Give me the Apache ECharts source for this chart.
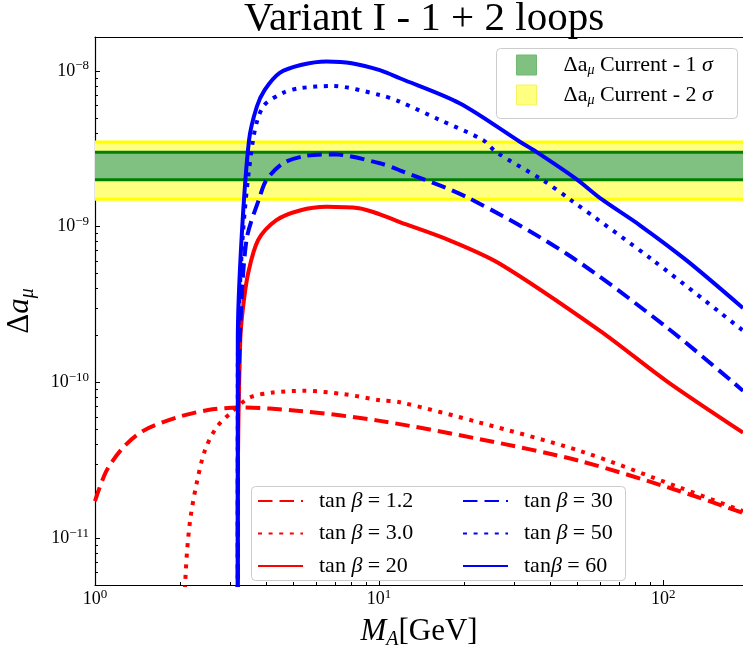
<!DOCTYPE html>
<html><head><meta charset="utf-8">
<script src="https://cdn.jsdelivr.net/npm/echarts@6/dist/echarts.min.js"></script>
<style>html,body{margin:0;padding:0;background:#fff}#c{width:743px;height:647px}</style>
</head><body><div id="c"></div>
<script>
const FONT = '"Liberation Serif", "DejaVu Serif", serif';

// ticks
const xMajorTicks = [1, 10, 100];
const xMinorTicks = [2, 3, 4, 5, 6, 7, 8, 9, 20, 30, 40, 50, 60, 70, 80, 90];
const yMajorTicks = [1e-11, 1e-10, 1e-9, 1e-8];
const yMinorTicks = [6e-12, 7e-12, 8e-12, 9e-12,
  2e-11, 3e-11, 4e-11, 5e-11, 6e-11, 7e-11, 8e-11, 9e-11,
  2e-10, 3e-10, 4e-10, 5e-10, 6e-10, 7e-10, 8e-10, 9e-10,
  2e-9, 3e-9, 4e-9, 5e-9, 6e-9, 7e-9, 8e-9, 9e-9];

// bands
const band1Sigma = [2.0e-9, 3.0e-9];
const band2Sigma = [1.5e-9, 3.5e-9];
const bandX = [1, 191];

// tan beta = 1.2 (red dashed)
const mA_tb1p2 = [1.0, 1.097, 1.255, 1.476, 1.934, 2.5, 3.233, 5.24, 10.06, 22.6, 50.9, 114.5, 191];
const da_tb1p2 = [1.73e-11, 2.7e-11, 3.81e-11, 4.88e-11, 5.94e-11, 6.64e-11, 6.89e-11, 6.56e-11, 5.66e-11, 4.32e-11, 3.13e-11, 2.0e-11, 1.45e-11];
// tan beta = 3.0 (red dotted)
const mA_tb3 = [2.066, 2.074, 2.109, 2.168, 2.275, 2.434, 2.676, 3.06, 3.505, 4.235, 5.40, 7.5, 10.06, 11.83, 22.6, 50.9, 114.5, 191];
const da_tb3 = [4e-12, 4.9e-12, 8.24e-12, 1.35e-11, 2.21e-11, 3.63e-11, 5.13e-11, 6.56e-11, 8.0e-11, 8.61e-11, 8.83e-11, 8.41e-11, 7.68e-11, 7.46e-11, 5.52e-11, 3.63e-11, 2.11e-11, 1.49e-11];
// tan beta = 20 (red solid)
const mA_tb20 = [3.181, 3.182, 3.245, 3.32, 3.457, 3.749, 4.35, 5.26, 6.53, 8.5, 10.06, 11.83, 17.7, 26.6, 59.8, 102.8, 191];
const da_tb20 = [4e-12, 2e-11, 1.85e-10, 3.03e-10, 4.98e-10, 8.17e-10, 1.10e-9, 1.27e-9, 1.34e-9, 1.31e-9, 1.20e-9, 1.07e-9, 8.17e-10, 5.78e-10, 2.15e-10, 1.02e-10, 4.76e-11];
// tan beta = 30 (blue dashed)
const mA_tb30 = [3.181, 3.182, 3.233, 3.413, 3.80, 4.013, 4.59, 5.54, 6.89, 10.06, 11.83, 20.3, 45.7, 102.8, 191];
const da_tb30 = [4e-12, 4e-11, 1.85e-10, 8.17e-10, 1.55e-9, 1.99e-9, 2.55e-9, 2.85e-9, 2.91e-9, 2.55e-9, 2.30e-9, 1.55e-9, 6.7e-10, 2.26e-10, 8.83e-11];
// tan beta = 50 (blue dotted)
const mA_tb50 = [3.181, 3.182, 3.304, 3.60, 3.905, 4.59, 5.26, 6.82, 10.06, 11.83, 16.35, 23.2, 25.9, 37.8, 46.9, 92.2, 191];
const da_tb50 = [4e-12, 1.2e-10, 8.17e-10, 3.6e-9, 5.89e-9, 7.22e-9, 7.74e-9, 8.0e-9, 7.0e-9, 6.34e-9, 4.84e-9, 3.6e-9, 3.0e-9, 1.98e-9, 1.5e-9, 6.07e-10, 2.15e-10];
// tan beta = 60 (blue solid)
const mA_tb60 = [3.181, 3.182, 3.278, 3.486, 3.709, 3.958, 4.47, 5.30, 6.53, 8.01, 10.06, 11.83, 19.2, 31.3, 35.8, 49.5, 60.7, 82.8, 120.9, 191];
const da_tb60 = [4e-12, 1.85e-10, 8.17e-10, 3.6e-9, 5.86e-9, 7.55e-9, 9.71e-9, 1.09e-8, 1.148e-8, 1.12e-8, 1.01e-8, 8.97e-9, 6.2e-9, 3.51e-9, 3.02e-9, 2.02e-9, 1.5e-9, 1.02e-9, 6.07e-10, 3.0e-10];

const seriesNames = ['tan β = 1.2', 'tan β = 3.0', 'tan β = 20', 'tan β = 30', 'tan β = 50', 'tanβ = 60'];
const bandNames = ['Δa_μ Current - 1 σ', 'Δa_μ Current - 2 σ'];

const zip = (a, b) => a.map((v, i) => [v, b[i]]);

const tickRich = {
  b: { fontFamily: FONT, fontSize: 18, lineHeight: 23, color: '#000' },
  s: { fontFamily: FONT, fontSize: 13, lineHeight: 13, verticalAlign: 'top', color: '#000' }
};
function powLabel(val) {
  const e = Math.round(Math.log10(val));
  if (Math.abs(Math.log10(val) - e) > 1e-6) return '';
  return '{b|10}{s|' + (e < 0 ? '−' : '') + Math.abs(e) + '}';
}

const DASH = [14.5, 7];
const DOT = [4, 6.6];
const LW = 4;
const LFS = 22;

function lineSeries(name, m, d, color, type) {
  return {
    type: 'line', name: name, data: zip(m, d), xAxisIndex: 0, yAxisIndex: 0,
    showSymbol: false, symbol: 'none', smooth: 0.3, z: 3,
    lineStyle: { color: color, width: LW, type: type, cap: 'butt' },
    itemStyle: { color: color }, clip: true
  };
}
function edgeSeries(name, y, color) {
  return {
    type: 'line', name: name, data: bandX.map(x => [x, y]), xAxisIndex: 0, yAxisIndex: 0,
    showSymbol: false, symbol: 'none', z: 2, silent: true,
    lineStyle: { color: color, width: 3, type: 'solid' }, itemStyle: { color: color }
  };
}

const legendRich = {
  r: { fontFamily: FONT, fontSize: LFS, lineHeight: 24, color: '#000' },
  i: { fontFamily: FONT, fontStyle: 'italic', fontSize: LFS, lineHeight: 24, color: '#000' },
  sub: { fontFamily: FONT, fontStyle: 'italic', fontSize: 14, lineHeight: 14, verticalAlign: 'bottom', color: '#000' }
};
const tanFormatter = function (name) {
  const k = name.indexOf('β');
  return '{r|' + name.slice(0, k) + '}{i|β}{r|' + name.slice(k + 1) + '}';
};
function lineLegend(names, left) {
  return {
    data: names, orient: 'vertical', left: left, top: 490, itemWidth: 45, itemHeight: 14, itemGap: 10.5,
    padding: 0, selectedMode: false, itemStyle: { opacity: 0, borderWidth: 0 },
    formatter: tanFormatter, z: 6,
    textStyle: { padding: [0, 0, 0, 11], rich: legendRich }
  };
}

const chart = echarts.init(document.getElementById('c'), null, { renderer: 'canvas' });
const option = {
  animation: false,
  backgroundColor: '#fff',
  title: {
    text: 'Variant I - 1 + 2 loops', left: 419, textAlign: 'center', top: -6,
    textStyle: { fontFamily: FONT, fontSize: 41, fontWeight: 'normal', color: '#000' }
  },
  grid: { left: 95, top: 37, right: 0, bottom: 62, containLabel: false, outerBoundsMode: 'none' },
  xAxis: [
    {
      type: 'log', logBase: 10, min: 1, max: 191, position: 'bottom',
      axisLine: { show: true, onZero: false, lineStyle: { color: '#000', width: 1.2 } },
      axisTick: { show: true, inside: true, length: 5, customValues: xMajorTicks, lineStyle: { color: '#000', width: 1 } },
      axisLabel: { show: true, customValues: xMajorTicks, formatter: powLabel, rich: tickRich, margin: 3 },
      splitLine: { show: false }, minorTick: { show: false },
      name: '{i|M}{sub|A}{r|[GeV]}', nameLocation: 'middle', nameGap: 29,
      nameTextStyle: {
        rich: {
          i: { fontFamily: FONT, fontStyle: 'italic', fontSize: 31, lineHeight: 36, color: '#000' },
          sub: { fontFamily: FONT, fontStyle: 'italic', fontSize: 20, lineHeight: 20, verticalAlign: 'bottom', color: '#000' },
          r: { fontFamily: FONT, fontSize: 31, lineHeight: 36, color: '#000' }
        }
      }
    },
    {
      type: 'log', logBase: 10, min: 1, max: 191, position: 'bottom',
      axisLine: { show: false },
      axisTick: { show: true, inside: true, length: 3, customValues: xMinorTicks, lineStyle: { color: '#000', width: 1 } },
      axisLabel: { show: false }, splitLine: { show: false }
    },
    {
      type: 'log', logBase: 10, min: 1, max: 191, position: 'top',
      axisLine: { show: true, onZero: false, lineStyle: { color: '#000', width: 1.2 } },
      axisTick: { show: false }, axisLabel: { show: false }, splitLine: { show: false }
    }
  ],
  yAxis: [
    {
      type: 'log', logBase: 10, min: 5e-12, max: 1.65e-8, position: 'left',
      axisLine: { show: true, onZero: false, lineStyle: { color: '#000', width: 1.2 } },
      axisTick: { show: true, inside: true, length: 5, customValues: yMajorTicks, lineStyle: { color: '#000', width: 1 } },
      axisLabel: { show: true, customValues: yMajorTicks, formatter: powLabel, rich: tickRich, margin: 6 },
      splitLine: { show: false },
      name: '{r|Δ}{i|a}{sub|μ}', nameLocation: 'middle', nameGap: 57, nameRotate: 90,
      nameTextStyle: {
        rich: {
          r: { fontFamily: FONT, fontSize: 31, lineHeight: 36, color: '#000' },
          i: { fontFamily: FONT, fontStyle: 'italic', fontSize: 31, lineHeight: 36, color: '#000' },
          sub: { fontFamily: FONT, fontStyle: 'italic', fontSize: 20, lineHeight: 20, verticalAlign: 'bottom', color: '#000' }
        }
      }
    },
    {
      type: 'log', logBase: 10, min: 5e-12, max: 1.65e-8, position: 'left',
      axisLine: { show: false },
      axisTick: { show: true, inside: true, length: 3, customValues: yMinorTicks, lineStyle: { color: '#000', width: 1 } },
      axisLabel: { show: false }, splitLine: { show: false }
    }
  ],
  graphic: [
    { type: 'rect', z: 5, silent: true, shape: { x: 496.5, y: 48.5, width: 241, height: 70, r: 4 },
      style: { fill: 'rgba(255,255,255,0.8)', stroke: '#cccccc', lineWidth: 1 } },
    { type: 'rect', z: 5, silent: true, shape: { x: 251.5, y: 486.5, width: 374, height: 94, r: 4 },
      style: { fill: 'rgba(255,255,255,0.8)', stroke: '#cccccc', lineWidth: 1 } }
  ],
  legend: [
    {
      data: [
        { name: bandNames[0], icon: 'rect', itemStyle: { color: '#80c080', borderColor: '#70b870', borderWidth: 1 } },
        { name: bandNames[1], icon: 'rect', itemStyle: { color: '#ffff80', borderColor: '#f4f460', borderWidth: 1 } }
      ],
      orient: 'vertical', left: 516, top: 54, itemWidth: 20, itemHeight: 20, itemGap: 7,
      padding: 0, selectedMode: false, z: 6,
      formatter: function (name) {
        const n = name.indexOf('1 σ') >= 0 ? '1' : '2';
        return '{r|Δa}{sub|μ}{r| Current - ' + n + ' }{i|σ}';
      },
      textStyle: { padding: [0, 0, 0, 22], rich: legendRich }
    },
    lineLegend([seriesNames[0], seriesNames[1], seriesNames[2]], 257),
    lineLegend([seriesNames[3], seriesNames[4], seriesNames[5]], 462)
  ],
  series: [
    {
      type: 'line', name: bandNames[1], data: [], z: 1, xAxisIndex: 0, yAxisIndex: 0,
      itemStyle: { color: '#ffff80' },
      markArea: { silent: true, itemStyle: { color: '#ffff80' }, data: [[{ yAxis: band2Sigma[0] }, { yAxis: band2Sigma[1] }]] }
    },
    {
      type: 'line', name: bandNames[0], data: [], z: 1, xAxisIndex: 0, yAxisIndex: 0,
      itemStyle: { color: '#80c080' },
      markArea: { silent: true, itemStyle: { color: '#80c080' }, data: [[{ yAxis: band1Sigma[0] }, { yAxis: band1Sigma[1] }]] }
    },
    edgeSeries(bandNames[1], band2Sigma[0], '#ffff00'),
    edgeSeries(bandNames[1], band2Sigma[1], '#ffff00'),
    edgeSeries(bandNames[0], band1Sigma[0], '#008000'),
    edgeSeries(bandNames[0], band1Sigma[1], '#008000'),
    lineSeries(seriesNames[0], mA_tb1p2, da_tb1p2, '#ff0000', DASH),
    lineSeries(seriesNames[1], mA_tb3, da_tb3, '#ff0000', DOT),
    lineSeries(seriesNames[2], mA_tb20, da_tb20, '#ff0000', 'solid'),
    lineSeries(seriesNames[3], mA_tb30, da_tb30, '#0000ff', DASH),
    lineSeries(seriesNames[4], mA_tb50, da_tb50, '#0000ff', DOT),
    lineSeries(seriesNames[5], mA_tb60, da_tb60, '#0000ff', 'solid')
  ]
};
chart.setOption(option);
</script>
</body></html>
